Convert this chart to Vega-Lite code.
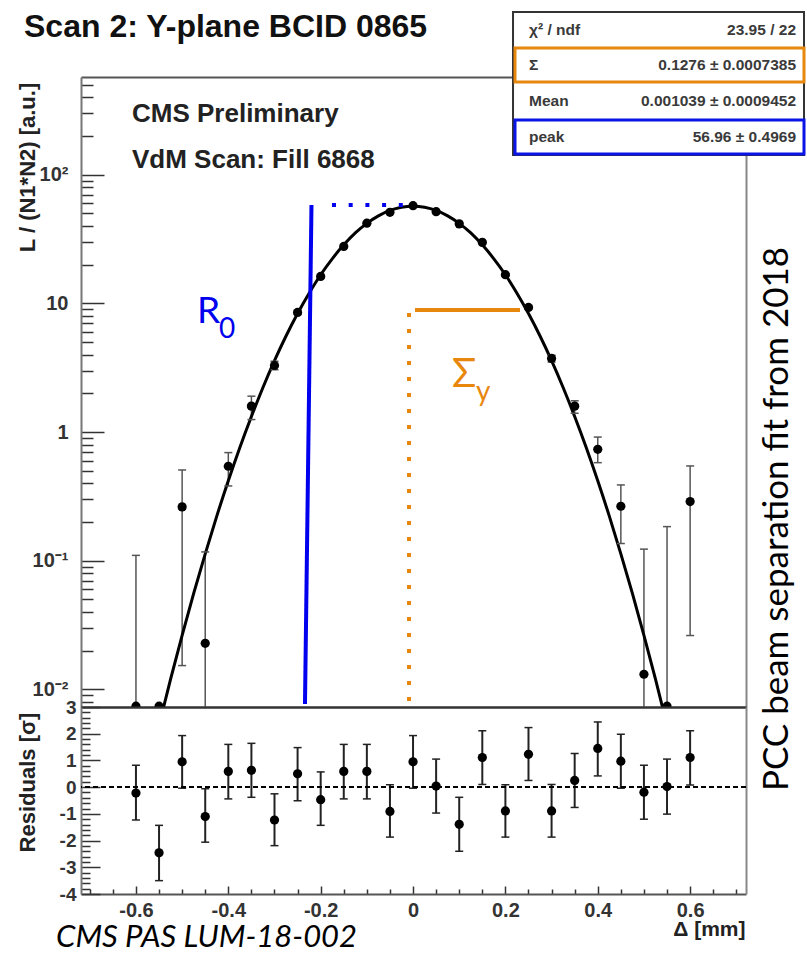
{
  "$schema": "https://vega.github.io/schema/vega-lite/v6.json",
  "background": "white",
  "padding": {"left": 16, "top": 11, "right": 0, "bottom": 0},
  "spacing": 0,
  "bounds": "flush",
  "config": {"view": {"stroke": null}, "axis": {"grid": false}, "font": "Liberation Sans"},
  "datasets": {
    "pts": [
      {"x": -0.6, "y": 0.0074, "lo": 0.001, "hi": 0.11},
      {"x": -0.55, "y": 0.0074, "lo": 0.0074, "hi": 0.0074},
      {"x": -0.5, "y": 0.262, "lo": 0.0153, "hi": 0.507},
      {"x": -0.45, "y": 0.0228, "lo": 0.001, "hi": 0.117},
      {"x": -0.4, "y": 0.542, "lo": 0.381, "hi": 0.692},
      {"x": -0.35, "y": 1.59, "lo": 1.25, "hi": 1.9},
      {"x": -0.3, "y": 3.29, "lo": 3.05, "hi": 3.55},
      {"x": -0.25, "y": 8.5, "lo": 8.2, "hi": 8.8},
      {"x": -0.2, "y": 16.2, "lo": 15.8, "hi": 16.6},
      {"x": -0.15, "y": 27.7, "lo": 27.2, "hi": 28.2},
      {"x": -0.1, "y": 42.0, "lo": 41.4, "hi": 42.6},
      {"x": -0.05, "y": 51.0, "lo": 50.4, "hi": 51.6},
      {"x": 0.0, "y": 57.5, "lo": 56.9, "hi": 58.1},
      {"x": 0.05, "y": 51.6, "lo": 51.0, "hi": 52.2},
      {"x": 0.1, "y": 41.5, "lo": 40.9, "hi": 42.1},
      {"x": 0.15, "y": 29.8, "lo": 29.3, "hi": 30.3},
      {"x": 0.2, "y": 16.7, "lo": 16.3, "hi": 17.1},
      {"x": 0.25, "y": 9.3, "lo": 9.0, "hi": 9.6},
      {"x": 0.3, "y": 3.73, "lo": 3.5, "hi": 3.95},
      {"x": 0.35, "y": 1.59, "lo": 1.4, "hi": 1.75},
      {"x": 0.4, "y": 0.734, "lo": 0.578, "hi": 0.914},
      {"x": 0.45, "y": 0.265, "lo": 0.136, "hi": 0.388},
      {"x": 0.5, "y": 0.0131, "lo": 0.001, "hi": 0.123},
      {"x": 0.55, "y": 0.0074, "lo": 0.001, "hi": 0.184},
      {"x": 0.6, "y": 0.288, "lo": 0.0262, "hi": 0.545}
    ],
    "fit": [
      {"x": -0.55, "y": 0.00525}, {"x": -0.525, "y": 0.012}, {"x": -0.5, "y": 0.0263},
      {"x": -0.475, "y": 0.0557}, {"x": -0.45, "y": 0.113}, {"x": -0.425, "y": 0.222},
      {"x": -0.4, "y": 0.418}, {"x": -0.375, "y": 0.758}, {"x": -0.35, "y": 1.32},
      {"x": -0.325, "y": 2.22}, {"x": -0.3, "y": 3.59}, {"x": -0.275, "y": 5.58},
      {"x": -0.25, "y": 8.35}, {"x": -0.225, "y": 12.0}, {"x": -0.2, "y": 16.7},
      {"x": -0.175, "y": 22.2}, {"x": -0.15, "y": 28.5}, {"x": -0.125, "y": 35.3},
      {"x": -0.1, "y": 41.9}, {"x": -0.075, "y": 47.9}, {"x": -0.05, "y": 52.8},
      {"x": -0.025, "y": 55.9}, {"x": 0.0, "y": 57.0}, {"x": 0.025, "y": 55.9},
      {"x": 0.05, "y": 52.8}, {"x": 0.075, "y": 47.9}, {"x": 0.1, "y": 41.9},
      {"x": 0.125, "y": 35.3}, {"x": 0.15, "y": 28.5}, {"x": 0.175, "y": 22.2},
      {"x": 0.2, "y": 16.7}, {"x": 0.225, "y": 12.0}, {"x": 0.25, "y": 8.35},
      {"x": 0.275, "y": 5.58}, {"x": 0.3, "y": 3.59}, {"x": 0.325, "y": 2.22},
      {"x": 0.35, "y": 1.32}, {"x": 0.375, "y": 0.758}, {"x": 0.4, "y": 0.418},
      {"x": 0.425, "y": 0.222}, {"x": 0.45, "y": 0.113}, {"x": 0.475, "y": 0.0557},
      {"x": 0.5, "y": 0.0263}, {"x": 0.525, "y": 0.012}, {"x": 0.55, "y": 0.00525}
    ],
    "res": [
      {"x": -0.6, "r": -0.22, "rlo": -1.23, "rhi": 0.82},
      {"x": -0.55, "r": -2.46, "rlo": -3.5, "rhi": -1.43},
      {"x": -0.5, "r": 0.95, "rlo": -0.04, "rhi": 1.93},
      {"x": -0.45, "r": -1.1, "rlo": -2.06, "rhi": -0.06},
      {"x": -0.4, "r": 0.59, "rlo": -0.44, "rhi": 1.6},
      {"x": -0.35, "r": 0.63, "rlo": -0.38, "rhi": 1.64},
      {"x": -0.3, "r": -1.23, "rlo": -2.19, "rhi": -0.25},
      {"x": -0.25, "r": 0.5, "rlo": -0.51, "rhi": 1.48},
      {"x": -0.2, "r": -0.47, "rlo": -1.43, "rhi": 0.57},
      {"x": -0.15, "r": 0.59, "rlo": -0.44, "rhi": 1.6},
      {"x": -0.1, "r": 0.59, "rlo": -0.44, "rhi": 1.6},
      {"x": -0.05, "r": -0.91, "rlo": -1.87, "rhi": 0.09},
      {"x": 0.0, "r": 0.95, "rlo": -0.04, "rhi": 1.93},
      {"x": 0.05, "r": 0.04, "rlo": -0.97, "rhi": 1.05},
      {"x": 0.1, "r": -1.39, "rlo": -2.4, "rhi": -0.38},
      {"x": 0.15, "r": 1.11, "rlo": 0.1, "rhi": 2.11},
      {"x": 0.2, "r": -0.89, "rlo": -1.87, "rhi": 0.09},
      {"x": 0.25, "r": 1.23, "rlo": 0.25, "rhi": 2.23},
      {"x": 0.3, "r": -0.89, "rlo": -1.87, "rhi": 0.1},
      {"x": 0.35, "r": 0.25, "rlo": -0.76, "rhi": 1.26},
      {"x": 0.4, "r": 1.45, "rlo": 0.42, "rhi": 2.44},
      {"x": 0.45, "r": 0.97, "rlo": -0.04, "rhi": 1.98},
      {"x": 0.5, "r": -0.19, "rlo": -1.2, "rhi": 0.82},
      {"x": 0.55, "r": 0.02, "rlo": -1.01, "rhi": 1.05},
      {"x": 0.6, "r": 1.11, "rlo": 0.08, "rhi": 2.11}
    ],
    "stats": [
      {"y": 1220, "l": "χ² / ndf", "v": "23.95 / 22"},
      {"y": 651.8, "l": "Σ", "v": "0.1276 ± 0.0007385"},
      {"y": 342.2, "l": "Mean", "v": "0.001039 ± 0.0009452"},
      {"y": 179.7, "l": "peak", "v": "56.96 ± 0.4969"}
    ]
  },
  "vconcat": [
    {
      "width": 665,
      "height": 630,
      "resolve": {"axis": {"x": "independent", "y": "independent"}},
      "layer": [
        {
          "data": {"name": "pts"},
          "mark": {"type": "rule", "color": "#555", "strokeWidth": 1.5, "clip": true},
          "encoding": {
            "x": {"field": "x", "type": "quantitative", "scale": {"domain": [-0.719, 0.721], "nice": false, "zero": false},
              "axis": {"orient": "top", "ticks": false, "labels": false, "title": null, "domainColor": "#555", "domainWidth": 2}},
            "y": {"field": "lo", "type": "quantitative", "scale": {"type": "log", "domain": [0.00729, 575], "nice": false},
              "axis": {
                "orient": "left",
                "values": [0.008,0.009,0.01,0.02,0.03,0.04,0.05,0.06,0.07,0.08,0.09,0.1,0.2,0.3,0.4,0.5,0.6,0.7,0.8,0.9,1,2,3,4,5,6,7,8,9,10,20,30,40,50,60,70,80,90,100,200,300,400,500],
                "labelExpr": "datum.value == 100 ? '10²' : datum.value == 10 ? '10' : datum.value == 1 ? '1' : datum.value == 0.1 ? '10⁻¹' : datum.value == 0.01 ? '10⁻²' : ''",
                "tickSize": {"condition": {"test": "datum.value == 0.01 || datum.value == 0.1 || datum.value == 1 || datum.value == 10 || datum.value == 100", "value": -23}, "value": -12},
                "tickColor": "#333", "tickWidth": 1.5,
                "labelPadding": 36, "labelOverlap": false, "labelFlush": false, "labelBound": false,
                "labelFont": "Liberation Sans", "labelFontWeight": "bold", "labelFontSize": 20, "labelColor": "#333",
                "domainColor": "#777", "domainWidth": 2,
                "title": "L / (N1*N2) [a.u.]", "titleFont": "Liberation Sans", "titleFontWeight": "bold", "titleFontSize": 22, "titleColor": "#222",
                "titleX": -54, "titleY": 90, "titleBaseline": "middle", "titleAlign": "center", "titleAngle": 270
              }},
            "y2": {"field": "hi"}
          }
        },
        {
          "data": {"name": "fit"},
          "mark": {"type": "line", "color": "#000", "strokeWidth": 3, "interpolate": "monotone", "clip": true},
          "encoding": {
            "x": {"field": "x", "type": "quantitative", "scale": {"domain": [-0.719, 0.721], "nice": false, "zero": false},
              "axis": {"orient": "bottom", "ticks": false, "labels": false, "title": null, "domainColor": "#333", "domainWidth": 2}},
            "y": {"field": "y", "type": "quantitative", "scale": {"type": "log", "domain": [0.00729, 575], "nice": false},
              "axis": {"orient": "right", "ticks": false, "labels": false, "title": null, "domainColor": "#888", "domainWidth": 2}}
          }
        },
        {
          "data": {"name": "pts"},
          "mark": {"type": "point", "shape": "M-1,0L1,0", "size": 64, "filled": false, "color": "#555", "strokeWidth": 1.5, "opacity": 1, "clip": true},
          "encoding": {
            "x": {"field": "x", "type": "quantitative", "scale": {"domain": [-0.719, 0.721], "nice": false, "zero": false}, "axis": null},
            "y": {"field": "lo", "type": "quantitative", "scale": {"type": "log", "domain": [0.00729, 575], "nice": false}, "axis": null}
          }
        },
        {
          "data": {"name": "pts"},
          "mark": {"type": "point", "shape": "M-1,0L1,0", "size": 64, "filled": false, "color": "#555", "strokeWidth": 1.5, "opacity": 1, "clip": true},
          "encoding": {
            "x": {"field": "x", "type": "quantitative", "scale": {"domain": [-0.719, 0.721], "nice": false, "zero": false}, "axis": null},
            "y": {"field": "hi", "type": "quantitative", "scale": {"type": "log", "domain": [0.00729, 575], "nice": false}, "axis": null}
          }
        },
        {
          "data": {"name": "pts"},
          "mark": {"type": "point", "shape": "circle", "filled": true, "color": "#000", "size": 85, "opacity": 1, "clip": true},
          "encoding": {
            "x": {"field": "x", "type": "quantitative", "scale": {"domain": [-0.719, 0.721], "nice": false, "zero": false}, "axis": null},
            "y": {"field": "y", "type": "quantitative", "scale": {"type": "log", "domain": [0.00729, 575], "nice": false}, "axis": null}
          }
        },
        {
          "data": {"values": [{"x1": -0.2199, "y1": 58.2, "x2": -0.234, "y2": 0.00769}]},
          "mark": {"type": "rule", "color": "#0000ee", "strokeWidth": 4},
          "encoding": {
            "x": {"field": "x1", "type": "quantitative", "scale": {"domain": [-0.719, 0.721], "nice": false, "zero": false}, "axis": null},
            "x2": {"field": "x2"},
            "y": {"field": "y1", "type": "quantitative", "scale": {"type": "log", "domain": [0.00729, 575], "nice": false}, "axis": null},
            "y2": {"field": "y2"}
          }
        },
        {
          "data": {"values": [{"x1": -0.1755, "x2": -0.0196, "y": 58.2}]},
          "mark": {"type": "rule", "color": "#0000ee", "strokeWidth": 4, "strokeDash": [4, 12.7], "strokeCap": "butt"},
          "encoding": {
            "x": {"field": "x1", "type": "quantitative", "scale": {"domain": [-0.719, 0.721], "nice": false, "zero": false}, "axis": null},
            "x2": {"field": "x2"},
            "y": {"field": "y", "type": "quantitative", "scale": {"type": "log", "domain": [0.00729, 575], "nice": false}, "axis": null}
          }
        },
        {
          "data": {"values": [{"x": -0.0087, "y1": 8.42, "y2": 0.00755}]},
          "mark": {"type": "rule", "color": "#e8870e", "strokeWidth": 4, "strokeDash": [4, 12], "strokeCap": "butt"},
          "encoding": {
            "x": {"field": "x", "type": "quantitative", "scale": {"domain": [-0.719, 0.721], "nice": false, "zero": false}, "axis": null},
            "y": {"field": "y1", "type": "quantitative", "scale": {"type": "log", "domain": [0.00729, 575], "nice": false}, "axis": null},
            "y2": {"field": "y2"}
          }
        },
        {
          "data": {"values": [{"x1": 0.0042, "x2": 0.2316, "y": 8.88}]},
          "mark": {"type": "rule", "color": "#e8870e", "strokeWidth": 4},
          "encoding": {
            "x": {"field": "x1", "type": "quantitative", "scale": {"domain": [-0.719, 0.721], "nice": false, "zero": false}, "axis": null},
            "x2": {"field": "x2"},
            "y": {"field": "y", "type": "quantitative", "scale": {"type": "log", "domain": [0.00729, 575], "nice": false}, "axis": null}
          }
        },
        {
          "data": {"values": [{"x": -0.8424, "y": 1176, "t": "Scan 2: Y-plane BCID 0865"}]},
          "mark": {"type": "text", "font": "Liberation Sans", "fontWeight": "bold", "fontSize": 32, "align": "left", "baseline": "alphabetic", "color": "#111"},
          "encoding": {
            "x": {"field": "x", "type": "quantitative", "scale": {"domain": [-0.719, 0.721], "nice": false, "zero": false}, "axis": null},
            "y": {"field": "y", "type": "quantitative", "scale": {"type": "log", "domain": [0.00729, 575], "nice": false}, "axis": null},
            "text": {"field": "t"}
          }
        },
        {
          "data": {"values": [{"x": -0.6086, "y": 257, "t": "CMS Preliminary"}, {"x": -0.6086, "y": 112.8, "t": "VdM Scan: Fill 6868"}]},
          "mark": {"type": "text", "font": "Liberation Sans", "fontWeight": "bold", "fontSize": 26, "align": "left", "baseline": "alphabetic", "color": "#222"},
          "encoding": {
            "x": {"field": "x", "type": "quantitative", "scale": {"domain": [-0.719, 0.721], "nice": false, "zero": false}, "axis": null},
            "y": {"field": "y", "type": "quantitative", "scale": {"type": "log", "domain": [0.00729, 575], "nice": false}, "axis": null},
            "text": {"field": "t"}
          }
        },
        {
          "data": {"values": [{"x": -0.4678, "y": 7.04, "t": "R"}]},
          "mark": {"type": "text", "font": "Lato, Noto Sans", "fontSize": 37, "align": "left", "baseline": "alphabetic", "color": "#0000ee"},
          "encoding": {
            "x": {"field": "x", "type": "quantitative", "scale": {"domain": [-0.719, 0.721], "nice": false, "zero": false}, "axis": null},
            "y": {"field": "y", "type": "quantitative", "scale": {"type": "log", "domain": [0.00729, 575], "nice": false}, "axis": null},
            "text": {"field": "t"}
          }
        },
        {
          "data": {"values": [{"x": -0.4202, "y": 5.38, "t": "0"}]},
          "mark": {"type": "text", "font": "Lato, Noto Sans", "fontSize": 28, "align": "left", "baseline": "alphabetic", "color": "#0000ee"},
          "encoding": {
            "x": {"field": "x", "type": "quantitative", "scale": {"domain": [-0.719, 0.721], "nice": false, "zero": false}, "axis": null},
            "y": {"field": "y", "type": "quantitative", "scale": {"type": "log", "domain": [0.00729, 575], "nice": false}, "axis": null},
            "text": {"field": "t"}
          }
        },
        {
          "data": {"values": [{"x": 0.0844, "y": 2.24, "t": "Σ"}]},
          "mark": {"type": "text", "font": "Lato, Noto Sans", "fontSize": 40, "align": "left", "baseline": "alphabetic", "color": "#e8870e"},
          "encoding": {
            "x": {"field": "x", "type": "quantitative", "scale": {"domain": [-0.719, 0.721], "nice": false, "zero": false}, "axis": null},
            "y": {"field": "y", "type": "quantitative", "scale": {"type": "log", "domain": [0.00729, 575], "nice": false}, "axis": null},
            "text": {"field": "t"}
          }
        },
        {
          "data": {"values": [{"x": 0.1363, "y": 1.743, "t": "y"}]},
          "mark": {"type": "text", "font": "Lato, Noto Sans", "fontSize": 28, "align": "left", "baseline": "alphabetic", "color": "#e8870e"},
          "encoding": {
            "x": {"field": "x", "type": "quantitative", "scale": {"domain": [-0.719, 0.721], "nice": false, "zero": false}, "axis": null},
            "y": {"field": "y", "type": "quantitative", "scale": {"type": "log", "domain": [0.00729, 575], "nice": false}, "axis": null},
            "text": {"field": "t"}
          }
        },
        {
          "data": {"values": [{"x": 0.7881, "y": 0.2109, "t": "PCC beam separation fit from 2018"}]},
          "mark": {"type": "text", "font": "Lato, Noto Sans", "fontSize": 35, "align": "center", "baseline": "middle", "angle": 270, "color": "#000"},
          "encoding": {
            "x": {"field": "x", "type": "quantitative", "scale": {"domain": [-0.719, 0.721], "nice": false, "zero": false}, "axis": null},
            "y": {"field": "y", "type": "quantitative", "scale": {"type": "log", "domain": [0.00729, 575], "nice": false}, "axis": null},
            "text": {"field": "t"}
          }
        },
        {
          "data": {"values": [{"x1": 0.2165, "x2": 0.8466, "y1": 1840, "y2": 142.3}]},
          "mark": {"type": "rect", "fill": "#fff", "stroke": "#333", "strokeWidth": 2},
          "encoding": {
            "x": {"field": "x1", "type": "quantitative", "scale": {"domain": [-0.719, 0.721], "nice": false, "zero": false}, "axis": null},
            "x2": {"field": "x2"},
            "y": {"field": "y1", "type": "quantitative", "scale": {"type": "log", "domain": [0.00729, 575], "nice": false}, "axis": null},
            "y2": {"field": "y2"}
          }
        },
        {
          "data": {"values": [{"x1": 0.2208, "x2": 0.8466, "y1": 966, "y2": 525.7, "c": "o"}, {"x1": 0.2208, "x2": 0.8466, "y1": 266.4, "y2": 145, "c": "b"}]},
          "mark": {"type": "rect", "fill": null, "strokeWidth": 3},
          "encoding": {
            "x": {"field": "x1", "type": "quantitative", "scale": {"domain": [-0.719, 0.721], "nice": false, "zero": false}, "axis": null},
            "x2": {"field": "x2"},
            "y": {"field": "y1", "type": "quantitative", "scale": {"type": "log", "domain": [0.00729, 575], "nice": false}, "axis": null},
            "y2": {"field": "y2"},
            "stroke": {"field": "c", "type": "nominal", "scale": {"domain": ["o", "b"], "range": ["#e8870e", "#0a14e6"]}, "legend": null}
          }
        },
        {
          "data": {"name": "stats"},
          "mark": {"type": "text", "font": "Liberation Sans", "fontWeight": "bold", "fontSize": 15.5, "align": "left", "baseline": "alphabetic", "color": "#3a3a3a"},
          "encoding": {
            "x": {"datum": 0.2511, "type": "quantitative", "scale": {"domain": [-0.719, 0.721], "nice": false, "zero": false}, "axis": null},
            "y": {"field": "y", "type": "quantitative", "scale": {"type": "log", "domain": [0.00729, 575], "nice": false}, "axis": null},
            "text": {"field": "l"}
          }
        },
        {
          "data": {"name": "stats"},
          "mark": {"type": "text", "font": "Liberation Sans", "fontWeight": "bold", "fontSize": 15.5, "align": "right", "baseline": "alphabetic", "color": "#3a3a3a"},
          "encoding": {
            "x": {"datum": 0.8293, "type": "quantitative", "scale": {"domain": [-0.719, 0.721], "nice": false, "zero": false}, "axis": null},
            "y": {"field": "y", "type": "quantitative", "scale": {"type": "log", "domain": [0.00729, 575], "nice": false}, "axis": null},
            "text": {"field": "v"}
          }
        }
      ]
    },
    {
      "width": 665,
      "height": 187,
      "resolve": {"axis": {"x": "independent", "y": "independent"}},
      "layer": [
        {
          "data": {"name": "res"},
          "mark": {"type": "rule", "color": "#222", "strokeWidth": 2, "clip": true},
          "encoding": {
            "x": {"field": "x", "type": "quantitative", "scale": {"domain": [-0.719, 0.721], "nice": false, "zero": false},
              "axis": {
                "orient": "bottom",
                "values": [-0.7,-0.65,-0.6,-0.55,-0.5,-0.45,-0.4,-0.35,-0.3,-0.25,-0.2,-0.15,-0.1,-0.05,0,0.05,0.1,0.15,0.2,0.25,0.3,0.35,0.4,0.45,0.5,0.55,0.6,0.65,0.7],
                "labelExpr": "(datum.value == -0.6 || datum.value == -0.4 || datum.value == -0.2 || datum.value == 0 || datum.value == 0.2 || datum.value == 0.4 || datum.value == 0.6) ? '' + datum.value : ''",
                "tickSize": {"condition": {"test": "datum.value == -0.6 || datum.value == -0.4 || datum.value == -0.2 || datum.value == 0 || datum.value == 0.2 || datum.value == 0.4 || datum.value == 0.6", "value": -8}, "value": -5},
                "tickColor": "#333", "tickWidth": 1.5,
                "labelPadding": 14, "labelOverlap": false, "labelFlush": false, "labelBound": false,
                "labelFont": "Liberation Sans", "labelFontWeight": "bold", "labelFontSize": 20, "labelColor": "#333",
                "domainColor": "#555", "domainWidth": 2,
                "title": "Δ [mm]", "titleFont": "Liberation Sans", "titleFontWeight": "bold", "titleFontSize": 21, "titleColor": "#222",
                "titleX": 664, "titleY": 41, "titleAlign": "right", "titleBaseline": "alphabetic"
              }},
            "y": {"field": "rlo", "type": "quantitative", "scale": {"domain": [-4, 3], "nice": false, "zero": false},
              "axis": {
                "orient": "left",
                "values": [-4,-3.8,-3.6,-3.4,-3.2,-3,-2.8,-2.6,-2.4,-2.2,-2,-1.8,-1.6,-1.4,-1.2,-1,-0.8,-0.6,-0.4,-0.2,0,0.2,0.4,0.6,0.8,1,1.2,1.4,1.6,1.8,2,2.2,2.4,2.6,2.8,3],
                "labelExpr": "datum.value % 1 == 0 ? '' + datum.value : ''",
                "tickSize": {"condition": {"test": "datum.value % 1 == 0", "value": -19}, "value": -9},
                "tickColor": "#333", "tickWidth": 1.5,
                "labelPadding": 24, "labelOverlap": false, "labelFlush": false, "labelBound": false,
                "labelFont": "Liberation Sans", "labelFontWeight": "bold", "labelFontSize": 19, "labelColor": "#333",
                "domainColor": "#777", "domainWidth": 2,
                "title": "Residuals [σ]", "titleFont": "Liberation Sans", "titleFontWeight": "bold", "titleFontSize": 22, "titleColor": "#222",
                "titleX": -54, "titleY": 75, "titleBaseline": "middle", "titleAlign": "center", "titleAngle": 270
              }},
            "y2": {"field": "rhi"}
          }
        },
        {
          "data": {"name": "res"},
          "mark": {"type": "point", "shape": "M-1,0L1,0", "size": 64, "filled": false, "color": "#222", "strokeWidth": 1.5, "opacity": 1, "clip": true},
          "encoding": {
            "x": {"field": "x", "type": "quantitative", "scale": {"domain": [-0.719, 0.721], "nice": false, "zero": false},
              "axis": {"orient": "top", "ticks": false, "labels": false, "title": null, "domainColor": "#333", "domainWidth": 2}},
            "y": {"field": "rlo", "type": "quantitative", "scale": {"domain": [-4, 3], "nice": false, "zero": false},
              "axis": {"orient": "right", "ticks": false, "labels": false, "title": null, "domainColor": "#888", "domainWidth": 2}}
          }
        },
        {
          "data": {"name": "res"},
          "mark": {"type": "point", "shape": "M-1,0L1,0", "size": 64, "filled": false, "color": "#222", "strokeWidth": 1.5, "opacity": 1, "clip": true},
          "encoding": {
            "x": {"field": "x", "type": "quantitative", "scale": {"domain": [-0.719, 0.721], "nice": false, "zero": false}, "axis": null},
            "y": {"field": "rhi", "type": "quantitative", "scale": {"domain": [-4, 3], "nice": false, "zero": false}, "axis": null}
          }
        },
        {
          "data": {"name": "res"},
          "mark": {"type": "rule", "color": "#000", "strokeWidth": 1.5, "strokeDash": [5, 3]},
          "encoding": {
            "y": {"datum": 0, "type": "quantitative", "scale": {"domain": [-4, 3], "nice": false, "zero": false}, "axis": null}
          }
        },
        {
          "data": {"name": "res"},
          "mark": {"type": "point", "shape": "circle", "filled": true, "color": "#000", "size": 85, "opacity": 1, "clip": true},
          "encoding": {
            "x": {"field": "x", "type": "quantitative", "scale": {"domain": [-0.719, 0.721], "nice": false, "zero": false}, "axis": null},
            "y": {"field": "r", "type": "quantitative", "scale": {"domain": [-4, 3], "nice": false, "zero": false}, "axis": null}
          }
        },
        {
          "data": {"values": [{"x": -0.7731, "y": -5.98, "t": "CMS PAS LUM-18-002"}]},
          "mark": {"type": "text", "font": "Lato, Noto Sans", "fontStyle": "italic", "fontSize": 31, "align": "left", "baseline": "alphabetic", "color": "#000"},
          "encoding": {
            "x": {"field": "x", "type": "quantitative", "scale": {"domain": [-0.719, 0.721], "nice": false, "zero": false}, "axis": null},
            "y": {"field": "y", "type": "quantitative", "scale": {"domain": [-4, 3], "nice": false, "zero": false}, "axis": null},
            "text": {"field": "t"}
          }
        }
      ]
    }
  ]
}
